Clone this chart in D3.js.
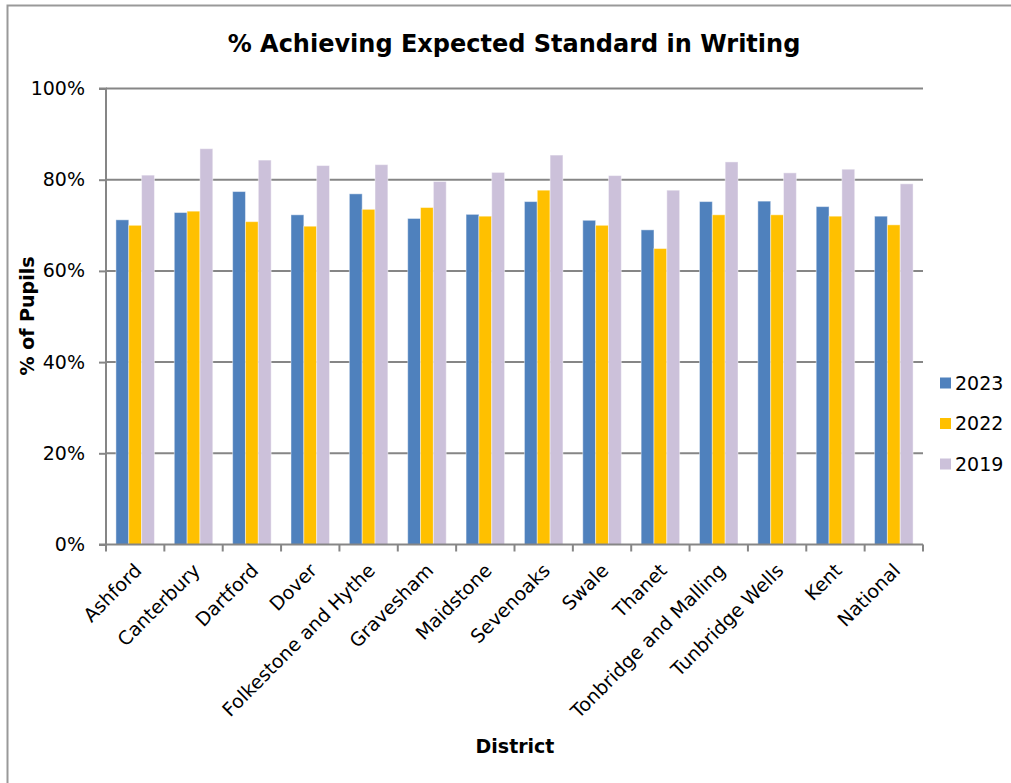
<!DOCTYPE html>
<html><head><meta charset="utf-8">
<script src="https://cdn.jsdelivr.net/npm/d3@7"></script>
<style>
html,body{margin:0;padding:0;background:#fff;}
svg{display:block;}
text{font-family:"DejaVu Sans",sans-serif;fill:#000;}
</style></head>
<body>
<svg id="chart" width="1011" height="783"></svg>
<script>
const categories = ["Ashford","Canterbury","Dartford","Dover","Folkestone and Hythe","Gravesham","Maidstone","Sevenoaks","Swale","Thanet","Tonbridge and Malling","Tunbridge Wells","Kent","National"];
const seriesNames = ["2023","2022","2019"];
const values2023 = [71.2,72.8,77.4,72.3,76.9,71.5,72.4,75.2,71.1,69.0,75.2,75.3,74.1,72.0];
const values2022 = [70.0,73.1,70.8,69.8,73.5,73.9,72.0,77.7,70.0,64.9,72.3,72.3,72.0,70.1];
const values2019 = [81.0,86.8,84.3,83.1,83.3,79.6,81.6,85.4,80.9,77.7,83.9,81.5,82.3,79.1];
const yTicks = [0,20,40,60,80,100];
const colors = ["#4F81BD","#FFC000","#CCC1DA"];

const seriesValues = [values2023, values2022, values2019];
const svg = d3.select("#chart");
const FONT = '"DejaVu Sans",sans-serif';

// outer border
svg.append("path").attr("d","M7.5,783 L7.5,5.5 L1011,5.5").attr("fill","none").attr("stroke","#999").attr("stroke-width",2);

const plot = {left:106, right:923, top:88.5, bottom:544.5};
const x0 = d3.scaleBand().domain(categories).range([plot.left, plot.right]).paddingInner(0.34).paddingOuter(0.17);
const x1 = d3.scaleBand().domain(seriesNames).range([0, x0.bandwidth()]);
const y = d3.scaleLinear().domain([0,100]).range([plot.bottom, plot.top]);

// gridlines
svg.append("g").selectAll("line").data(yTicks.filter(d=>d>0)).join("line")
  .attr("x1",plot.left).attr("x2",plot.right)
  .attr("y1",d=>y(d)).attr("y2",d=>y(d))
  .attr("stroke","#868686").attr("stroke-width",2);

// bars
const groups = svg.append("g").selectAll("g").data(categories).join("g")
  .attr("transform",d=>`translate(${x0(d)},0)`);
groups.selectAll("rect").data((c,i)=>seriesNames.map((s,j)=>({s, j, v:seriesValues[j][i]}))).join("rect")
  .attr("x",d=>x1(d.s)).attr("width",x1.bandwidth())
  .attr("y",d=>y(d.v)).attr("height",d=>y(0)-y(d.v))
  .attr("fill",d=>colors[d.j])
  .attr("stroke","rgba(255,255,255,0.45)").attr("stroke-width",1);

// y axis
const yAxis = d3.axisLeft(y).tickValues(yTicks).tickFormat(d=>d+"%").tickSize(7).tickPadding(14);
const gy = svg.append("g").attr("transform",`translate(${plot.left},0)`).call(yAxis);
gy.select(".domain").attr("stroke","#868686").attr("stroke-width",2).attr("d",`M-7,${plot.top}H0V${plot.bottom}H-7`);
gy.selectAll(".tick line").attr("stroke","#868686").attr("stroke-width",2);
gy.selectAll(".tick text").attr("font-size",19).style("font-family",FONT).attr("fill","#000");

// x axis
const xBoundaries = d3.range(categories.length+1).map(i=>plot.left + i*x0.step());
svg.append("line").attr("x1",plot.left).attr("x2",plot.right).attr("y1",plot.bottom).attr("y2",plot.bottom)
  .attr("stroke","#868686").attr("stroke-width",2);
svg.append("g").selectAll("line").data(xBoundaries).join("line")
  .attr("x1",d=>d).attr("x2",d=>d).attr("y1",plot.bottom).attr("y2",plot.bottom+7)
  .attr("stroke","#868686").attr("stroke-width",2);
svg.append("g").selectAll("text").data(categories).join("text")
  .attr("transform",d=>`translate(${x0(d)+x0.bandwidth()/2-2},562) rotate(-45)`)
  .attr("text-anchor","end").attr("dy","0.72em").attr("font-size",19).text(d=>d);

// titles
svg.append("text").attr("x",514).attr("y",52).attr("text-anchor","middle")
  .attr("font-size",24).attr("font-weight","bold").text("% Achieving Expected Standard in Writing");
svg.append("text").attr("x",515).attr("y",753).attr("text-anchor","middle")
  .attr("font-size",19).attr("font-weight","bold").text("District");
svg.append("text").attr("transform","translate(34,316) rotate(-90)").attr("text-anchor","middle")
  .attr("font-size",19).attr("font-weight","bold").text("% of Pupils");

// legend
const lg = svg.append("g").selectAll("g").data(seriesNames).join("g")
  .attr("transform",(d,i)=>`translate(940,${383+i*40.5})`);
lg.append("rect").attr("x",0).attr("y",-5.5).attr("width",11).attr("height",11).attr("fill",(d,i)=>colors[i]);
lg.append("text").attr("x",15).attr("dy","0.36em").attr("font-size",19).text(d=>d);
</script>
</body></html>
